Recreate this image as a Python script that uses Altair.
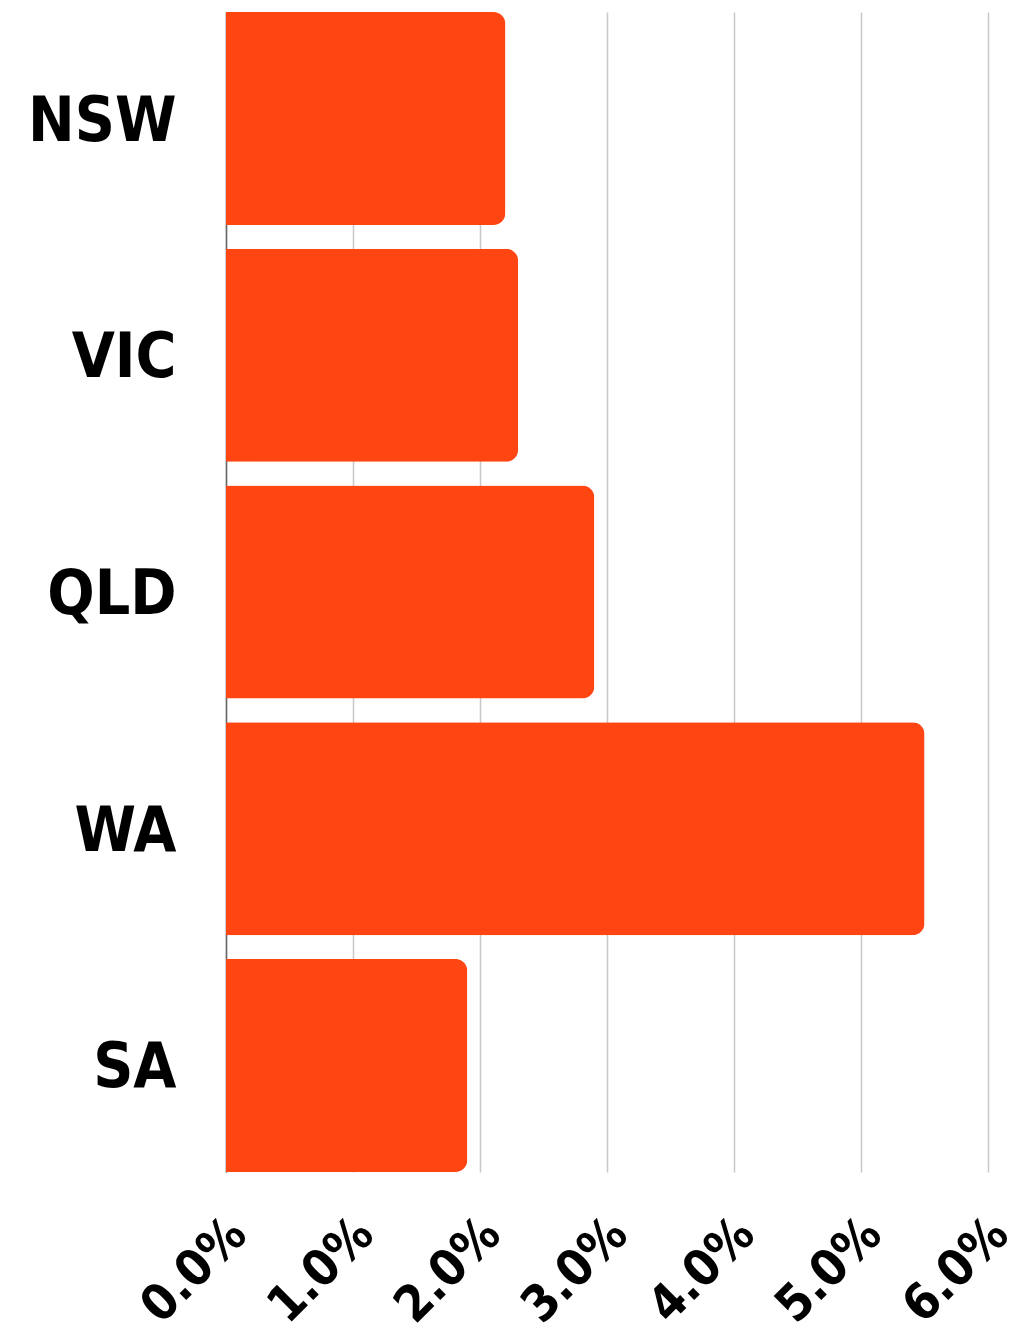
import altair as alt
import pandas as pd

states = ["NSW", "VIC", "QLD", "WA", "SA"]
values = [0.022, 0.023, 0.029, 0.055, 0.019]
tick_values = [0.0, 0.01, 0.02, 0.03, 0.04, 0.05, 0.06]

df = pd.DataFrame({"state": states, "value": values})

FONT = "Liberation Sans Narrow, DejaVu Sans Condensed, sans-serif"

chart = alt.Chart(df).mark_bar(
    color="#FF4612", cornerRadiusEnd=12
).encode(
    y=alt.Y("state:N", sort=states, title=None,
            scale=alt.Scale(paddingInner=0.1, paddingOuter=0),
            axis=alt.Axis(labelFont=FONT, labelFontSize=62, labelFontWeight="bold",
                          labelColor="#000", labelPadding=50, labelOffset=3, ticks=False,
                          domainColor="#666", domainWidth=1.5, grid=False)),
    x=alt.X("value:Q", title=None,
            scale=alt.Scale(domain=[0, 0.06], nice=False),
            axis=alt.Axis(values=tick_values, format=".1%", labelAngle=-45,
                          labelFont=FONT, labelFontSize=50, labelFontWeight="bold",
                          labelColor="#000", labelPadding=54, labelOffset=12,
                          ticks=False, domain=False, labelFlush=False, labelOverlap=False,
                          grid=True, gridColor="#c8c8c8", gridWidth=1.5,
                          labelAlign="right", labelBaseline="middle")),
).properties(
    width=762, height=1160,
    autosize=alt.AutoSizeParams(type="none"),
    padding={"left": 218, "top": 4, "right": 34, "bottom": 162},
).configure_view(stroke=None)

chart.save("out.html", embed_options={"renderer": "svg", "actions": False})
